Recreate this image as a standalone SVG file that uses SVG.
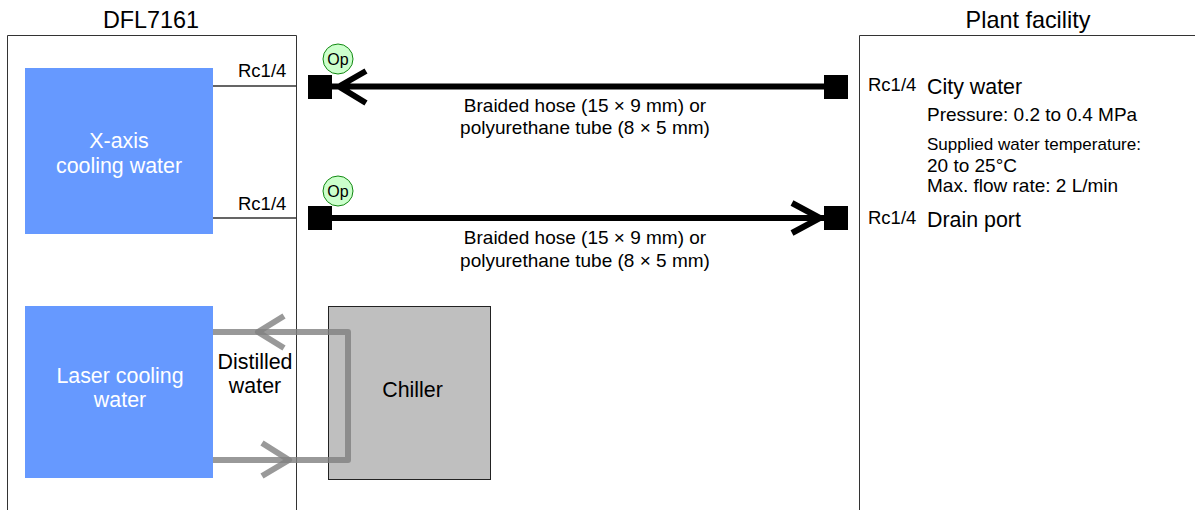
<svg xmlns="http://www.w3.org/2000/svg" width="1195" height="510" viewBox="0 0 1195 510">
<style>
text{font-family:"Liberation Sans",Arial,sans-serif;fill:#000}
.box{fill:none;stroke:#333;stroke-width:1}
.blue{fill:#6699ff}
.t23{font-size:23.400px}
.t21{font-size:21.400px}
.t19{font-size:19px}
.t18{font-size:18.500px}
.t17{font-size:17px}
.m{text-anchor:middle}
.op{fill:#ccffcc;stroke:#118811;stroke-width:1}
.thin{stroke:#333;stroke-width:1.300;fill:none}
.bk{stroke:#000;stroke-width:6;fill:none}
.gr{stroke:#808080;stroke-opacity:.8;stroke-width:6;fill:none;stroke-linejoin:round}
</style>
<rect width="1195" height="510" fill="#fff"/>
<g id="dfl7161"><path class="box" d="M7.500 510V35.500H296.500V510"/><text class="t23 m" x="151" y="28">DFL7161</text></g>
<g id="plant"><path class="box" d="M859.500 510V35.500H1195"/><text class="t23 m" x="1028" y="28">Plant facility</text></g>
<g id="xaxis"><rect class="blue" x="25" y="68" width="188" height="166"/><text class="t21 m" x="119" y="148" style="fill:#fff">X-axis</text><text class="t21 m" x="119" y="173" style="fill:#fff">cooling water</text></g>
<g id="laser"><rect class="blue" x="25" y="306" width="188" height="172"/><text class="t21 m" x="120" y="383" style="fill:#fff">Laser cooling</text><text class="t21 m" x="120" y="407" style="fill:#fff">water</text></g>
<g id="chiller"><rect x="328.500" y="306.500" width="162" height="173" fill="#bfbfbf" stroke="#222"/><text class="t21 m" x="412.500" y="397">Chiller</text></g>
<g id="connectors">
<path class="thin" d="M213 86H296M213 218H296"/>
<path class="bk" d="M320 86.500H836M366 71L339 86.500L366 103"/>
<path class="bk" d="M320 218H836M792 203L820 218L792 233"/>
<path class="gr" d="M213 332H348V460H213"/>
<path class="gr" d="M284 316L258 332L284 348M262 443L289 460L262 476"/>
</g>
<g id="port-a1"><rect x="308" y="75" width="24" height="24"/></g>
<g id="port-a2"><rect x="824" y="75" width="24" height="24"/></g>
<g id="port-b1"><rect x="308" y="206" width="24" height="24"/></g>
<g id="port-b2"><rect x="824" y="206" width="24" height="24"/></g>
<g id="op1"><circle class="op" cx="338" cy="59" r="15"/><text class="m" x="338" y="65" style="font-size:16px">Op</text></g>
<g id="op2"><circle class="op" cx="338" cy="191" r="15"/><text class="m" x="338" y="197" style="font-size:16px">Op</text></g>
<g id="labels">
<text class="t18" x="238" y="77">Rc1/4</text>
<text class="t18" x="238" y="210">Rc1/4</text>
<text class="t18" x="868" y="91">Rc1/4</text>
<text class="t18" x="868" y="224">Rc1/4</text>
<text class="t21" x="927" y="94">City water</text>
<text class="t19" x="927" y="121">Pressure: 0.2 to 0.4 MPa</text>
<text class="t17" x="927" y="150" textLength="214" lengthAdjust="spacingAndGlyphs">Supplied water temperature:</text>
<text class="t19" x="927" y="172">20 to 25°C</text>
<text class="t19" x="927" y="192">Max. flow rate: 2 L/min</text>
<text class="t21" x="927" y="227">Drain port</text>
<text class="t19 m" x="585" y="112">Braided hose (15 × 9 mm) or</text>
<text class="t19 m" x="585" y="134">polyurethane tube (8 × 5 mm)</text>
<text class="t19 m" x="585" y="244">Braided hose (15 × 9 mm) or</text>
<text class="t19 m" x="585" y="267">polyurethane tube (8 × 5 mm)</text>
<text class="t21 m" x="255" y="369">Distilled</text>
<text class="t21 m" x="255" y="393">water</text>
</g>
</svg>
